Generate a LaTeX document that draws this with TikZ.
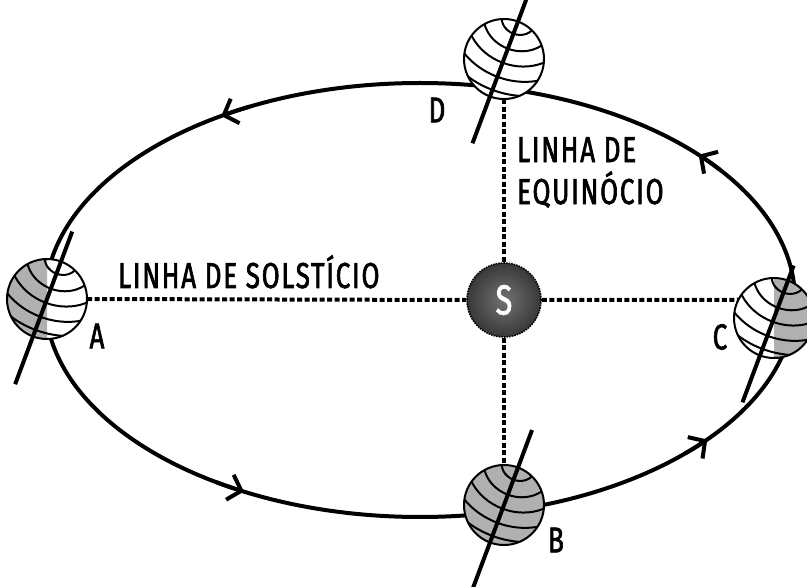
\documentclass[tikz,border=0pt]{standalone}
\usepackage{fontspec}
\newfontfamily\labelfont[FakeStretch=0.72,LetterSpace=5,FakeBold=1.8]{Fira Sans}
\usetikzlibrary{arrows.meta}

\begin{document}
\begin{tikzpicture}[x=1pt,y=1pt,
    orbit/.style={line width=4pt},
    dashline/.style={line width=4pt,dash pattern=on 5pt off 2.5pt},
    globe/.style={circle,fill=white,minimum size=80pt,inner sep=0pt},
    globeline/.style={line width=2pt},
    axisline/.style={line width=4pt},
    tag/.style={font=\labelfont\fontsize{36}{42}\selectfont,inner sep=0pt}
  ]
  \useasboundingbox (0,0) rectangle (807,587);

  % orbit
  \coordinate (orbit) at (420,287);
  \draw[orbit] (orbit) ellipse [x radius=375pt, y radius=217pt];
  \foreach \t in {42,122,242,320}{
    \draw[orbit,-{Straight Barb[length=12pt,width=26pt]}] (orbit) ++(\t-5:375pt and 217pt)
      arc [start angle=\t-5, end angle=\t, x radius=375pt, y radius=217pt];
  }

  % globes
  \foreach \n/\x/\y/\sa/\ea/\up/\dn in {A/47/288/90/270/72/91, B/504/82/0/360/80/88,
      C/774/269/-90/90/56/90, D/504/528/0/0/70/90}{
    \node[globe] (g\n) at (\x,\y) {};
    \fill[black!31] (g\n.center) ++(\sa:40pt) arc [start angle=\sa, end angle=\ea, radius=40pt] -- cycle;
    \begin{scope}[shift={(\x,\y)},rotate=-20.5]
      \clip (0,0) circle (40pt);
      \foreach \r in {15,31,46,61,75}
        \draw[globeline] (0,42) ellipse [x radius=1.15*\r, y radius=\r];
    \end{scope}
    \draw[globeline] (g\n) circle (40pt);
    \begin{scope}[shift={(\x,\y)},rotate=-20.5]
      \draw[axisline] (0,\up) -- (0,-\dn);
    \end{scope}
  }

  % sun and lines
  \node[circle,minimum size=74pt,inner sep=0pt,shading=radial,inner color=black!55,
    outer color=black!78,draw,densely dotted,line width=1.6pt,text=white,
    font=\labelfont\fontsize{42}{42}\selectfont] (sun) at (504,287) {S};
  \draw[dashline] (gA.east) -- (sun.west);
  \draw[dashline] (sun.east) -- (gC.153);
  \draw[dashline] (gD.south) -- (sun.north);
  \draw[dashline] (sun.south) -- (gB.north);

  \node[tag] (lblA) at (97,251) {A};
  \node[tag] (lblB) at (556,47) {B};
  \node[tag] (lblC) at (720,250) {C};
  \node[tag] (lblD) at (437,477) {D};
  \node[tag,anchor=base west] (solst) at (118,299) {LINHA DE SOLSTÍCIO};
  \node[tag,anchor=north west,align=left] (equin) at (517,450) {LINHA DE\\EQUINÓCIO};
\end{tikzpicture}
\end{document}
